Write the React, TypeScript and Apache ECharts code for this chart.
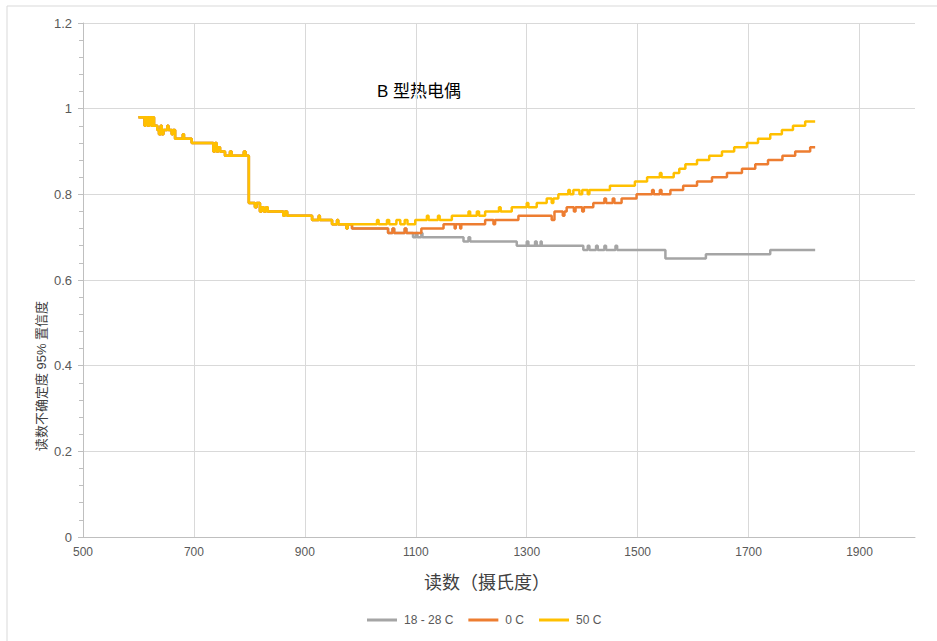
import React, { useEffect, useRef } from "react";
import * as echarts from "echarts";

// Shared part of all three curves (600–980 °C), breakpoints: value holds from x onward
const sharedX = [600, 611, 613, 617, 619, 623, 625, 628, 634, 637, 640, 642, 645, 652, 654, 660, 662, 666, 680, 682, 696, 735, 738, 741, 744, 747, 756, 765, 768, 790, 793, 799, 810, 813, 819, 822, 826, 830, 833, 861, 864, 868, 913, 925, 927, 949, 958, 960, 975, 977];
const sharedY = [0.98, 0.96, 0.98, 0.96, 0.98, 0.96, 0.98, 0.96, 0.95, 0.94, 0.96, 0.94, 0.95, 0.96, 0.95, 0.94, 0.95, 0.93, 0.94, 0.93, 0.92, 0.9, 0.92, 0.9, 0.91, 0.9, 0.89, 0.9, 0.89, 0.9, 0.89, 0.78, 0.77, 0.78, 0.76, 0.77, 0.76, 0.77, 0.76, 0.75, 0.76, 0.75, 0.74, 0.75, 0.74, 0.73, 0.74, 0.73, 0.72, 0.73];

// 50 C (after 985)
const hotX = [985, 1030, 1033, 1048, 1052, 1065, 1072, 1080, 1085, 1099, 1120, 1123, 1140, 1143, 1165, 1195, 1198, 1210, 1214, 1225, 1250, 1253, 1273, 1300, 1303, 1318, 1336, 1345, 1348, 1357, 1375, 1378, 1384, 1395, 1400, 1410, 1413, 1423, 1450, 1495, 1517, 1540, 1543, 1565, 1575, 1586, 1607, 1629, 1652, 1674, 1697, 1717, 1739, 1760, 1780, 1802, 1820];
const hotY = [0.73, 0.74, 0.73, 0.74, 0.73, 0.74, 0.73, 0.74, 0.73, 0.74, 0.75, 0.74, 0.75, 0.74, 0.75, 0.76, 0.75, 0.76, 0.75, 0.76, 0.77, 0.76, 0.77, 0.78, 0.77, 0.78, 0.79, 0.78, 0.79, 0.8, 0.81, 0.8, 0.81, 0.8, 0.81, 0.8, 0.81, 0.81, 0.82, 0.83, 0.84, 0.85, 0.84, 0.85, 0.86, 0.87, 0.88, 0.89, 0.9, 0.91, 0.92, 0.93, 0.94, 0.95, 0.96, 0.97, 0.97];

// 0 C (after 985)
const coldX = [985, 1050, 1058, 1061, 1080, 1083, 1110, 1150, 1170, 1172, 1180, 1182, 1225, 1240, 1243, 1285, 1345, 1350, 1365, 1368, 1372, 1385, 1388, 1400, 1403, 1420, 1440, 1443, 1455, 1458, 1471, 1498, 1526, 1529, 1540, 1543, 1559, 1582, 1607, 1634, 1661, 1688, 1712, 1735, 1761, 1784, 1811, 1820];
const coldY = [0.72, 0.71, 0.72, 0.71, 0.72, 0.71, 0.72, 0.73, 0.72, 0.73, 0.72, 0.73, 0.74, 0.73, 0.74, 0.75, 0.74, 0.76, 0.75, 0.76, 0.77, 0.76, 0.77, 0.76, 0.77, 0.78, 0.79, 0.78, 0.79, 0.78, 0.79, 0.8, 0.81, 0.8, 0.81, 0.8, 0.81, 0.82, 0.83, 0.84, 0.85, 0.86, 0.87, 0.88, 0.89, 0.9, 0.91, 0.91];

// 18 - 28 C (after 985)
const roomX = [985, 1050, 1058, 1061, 1080, 1083, 1095, 1100, 1103, 1110, 1112, 1186, 1195, 1198, 1282, 1300, 1303, 1315, 1318, 1325, 1327, 1402, 1410, 1413, 1425, 1428, 1440, 1443, 1460, 1463, 1550, 1623, 1739, 1820];
const roomY = [0.72, 0.71, 0.72, 0.71, 0.72, 0.71, 0.7, 0.71, 0.7, 0.71, 0.7, 0.69, 0.7, 0.69, 0.68, 0.69, 0.68, 0.69, 0.68, 0.69, 0.68, 0.67, 0.68, 0.67, 0.68, 0.67, 0.68, 0.67, 0.68, 0.67, 0.65, 0.66, 0.67, 0.67];

const seriesNames = ["18 - 28 C", "0 C", "50 C"];
const seriesColors = ["#A5A5A5", "#ED7D31", "#FFC000"];

const title = "B 型热电偶";
const xName = "读数（摄氏度）";
const yName = "读数不确定度 95% 置信度";

function pairs(xa: number[], ya: number[]) {
  return xa.map((x, i) => [x, ya[i]]);
}

export default function App() {
  const ref = useRef<HTMLDivElement>(null);
  useEffect(() => {
    if (!ref.current) return;
    const chart = echarts.init(ref.current, null, { renderer: "svg" });
    const shared = pairs(sharedX, sharedY);
    const datasets = [
      shared.concat(pairs(roomX, roomY)),
      shared.concat(pairs(coldX, coldY)),
      shared.concat(pairs(hotX, hotY)),
    ];
    const font = "'Liberation Sans', 'Noto Sans CJK SC', sans-serif";
    chart.setOption({
      animation: false,
      backgroundColor: "#ffffff",
      textStyle: { fontFamily: font },
      grid: { left: 83, top: 23, right: 22, bottom: 104, containLabel: false },
      xAxis: {
        type: "value",
        min: 500,
        max: 2000,
        interval: 200,
        axisLine: { show: true, lineStyle: { color: "#BFBFBF", width: 1 } },
        axisTick: { show: false },
        axisLabel: {
          color: "#595959",
          fontSize: 12,
          margin: 9,
          showMaxLabel: false,
          fontFamily: font,
          formatter: (v: number) => String(v),
        },
        splitLine: { show: true, showMinLine: false, showMaxLine: false, lineStyle: { color: "#D9D9D9", width: 1 } },
      },
      yAxis: {
        type: "value",
        min: 0,
        max: 1.2,
        interval: 0.2,
        axisLine: { show: true, lineStyle: { color: "#BFBFBF", width: 1 } },
        axisTick: { show: true, length: 5, lineStyle: { color: "#BFBFBF" } },
        minorTick: { show: true, splitNumber: 5, length: 4, lineStyle: { color: "#BFBFBF" } },
        axisLabel: { color: "#595959", fontSize: 13, margin: 11, fontFamily: font },
        splitLine: { show: true, lineStyle: { color: "#D9D9D9", width: 1 } },
      },
      legend: {
        left: 367,
        top: 614,
        padding: 0,
        itemWidth: 30,
        itemHeight: 3,
        itemGap: 15,
        icon: "rect",
        textStyle: { color: "#595959", fontSize: 12, fontFamily: font, padding: [0, 0, 0, 2] },
        data: seriesNames,
      },
      graphic: [
        {
          type: "rect",
          shape: { x: 7, y: 6, width: 980, height: 700 },
          style: { fill: "none", stroke: "#D9D9D9", lineWidth: 1 },
          silent: true,
          z: -10,
        },
        {
          type: "text",
          left: 377,
          top: 83,
          style: { text: title, fill: "#000000", fontSize: 17, fontFamily: font },
        },
        {
          type: "text",
          x: 487,
          y: 583,
          style: { text: xName, fill: "#404040", fontSize: 18, fontFamily: font, align: "center", verticalAlign: "middle" },
        },
        {
          type: "text",
          x: 41,
          y: 376,
          rotation: Math.PI / 2,
          style: { text: yName, fill: "#404040", fontSize: 13, fontFamily: font, align: "center", verticalAlign: "middle" },
        },
      ],
      series: seriesNames.map((name, i) => ({
        name,
        type: "line",
        step: "end",
        showSymbol: false,
        symbol: "none",
        data: datasets[i],
        color: seriesColors[i],
        lineStyle: { color: seriesColors[i], width: 2.5 },
        z: 2 + i,
      })),
    });
    return () => chart.dispose();
  }, []);
  return (
    <div
      ref={ref}
      style={{ position: "fixed", left: 0, top: 0, width: 937, height: 641 }}
    />
  );
}
